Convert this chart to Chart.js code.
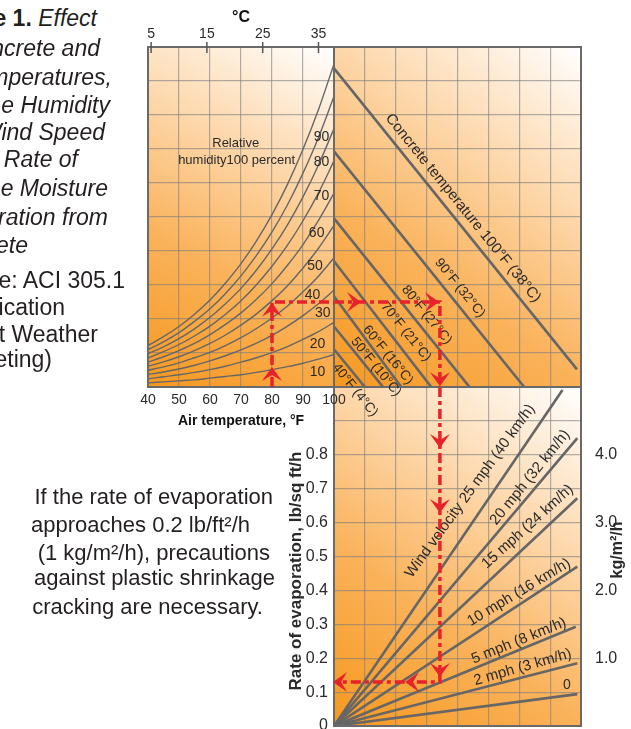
<!DOCTYPE html>
<html>
<head>
<meta charset="utf-8">
<title>Evaporation nomograph</title>
<script src="https://cdn.jsdelivr.net/npm/chart.js@4"></script>
<style>
  html, body { margin: 0; padding: 0; background: #fff; }
  #page { position: relative; width: 631px; height: 729px; overflow: hidden;
          font-family: "Liberation Sans", Arial, sans-serif; color: #231f20; }
  canvas { position: absolute; }
  #windChart { left: 240px; top: 380px; z-index: 1; }
  #concreteChart { left: 330px; top: 0; z-index: 2; }
  #airChart { left: 100px; top: 0; z-index: 3; }
  .ln { position: absolute; white-space: nowrap; font-size: 23px; line-height: 28px; z-index: 4; }
  .cap { position: absolute; white-space: nowrap; font-size: 22px; line-height: 28px; z-index: 4; }
</style>
</head>
<body>
<div id="page">
  <canvas id="windChart" width="391" height="349"></canvas>
  <canvas id="concreteChart" width="301" height="430"></canvas>
  <canvas id="airChart" width="250" height="430"></canvas>

  <div class="ln" style="right:534px;top:4px"><b>e 1.</b> <i>Effect</i></div>
  <div class="ln" style="right:531px;top:34px"><i>ncrete and</i></div>
  <div class="ln" style="right:519px;top:63px"><i>mperatures,</i></div>
  <div class="ln" style="right:521px;top:91px"><i>e Humidity</i></div>
  <div class="ln" style="right:526px;top:118px"><i>Wind Speed</i></div>
  <div class="ln" style="right:553px;top:145px"><i>Rate of</i></div>
  <div class="ln" style="right:523px;top:174px"><i>e Moisture</i></div>
  <div class="ln" style="right:523px;top:203px"><i>ration from</i></div>
  <div class="ln" style="right:603px;top:231px"><i>ete</i></div>
  <div class="ln" style="right:506px;top:266px">e: ACI 305.1</div>
  <div class="ln" style="right:566px;top:293px">ication</div>
  <div class="ln" style="right:533px;top:320px">t Weather</div>
  <div class="ln" style="right:579px;top:345px">eting)</div>

  <div class="cap" style="right:358px;top:483px">If the rate of evaporation</div>
  <div class="cap" style="right:381px;top:511px">approaches 0.2 lb/ft²/h</div>
  <div class="cap" style="right:361px;top:539px">(1 kg/m²/h), precautions</div>
  <div class="cap" style="right:356px;top:564px">against plastic shrinkage</div>
  <div class="cap" style="right:368px;top:593px">cracking are necessary.</div>
</div>

<script>
// ---- data ----

// air temperature (F) and vapour pressure of air (psi) for each relative humidity curve
const airTempsF = [40, 45, 50, 55, 60, 65, 70, 75, 80, 85, 90, 95, 100];
const rh100 = [0.122, 0.148, 0.178, 0.214, 0.256, 0.306, 0.363, 0.430, 0.507, 0.596, 0.699, 0.816, 0.950];
const rh90  = [0.110, 0.133, 0.160, 0.193, 0.230, 0.275, 0.327, 0.387, 0.456, 0.536, 0.629, 0.734, 0.855];
const rh80  = [0.098, 0.118, 0.142, 0.171, 0.205, 0.245, 0.290, 0.344, 0.406, 0.477, 0.559, 0.653, 0.760];
const rh70  = [0.085, 0.104, 0.125, 0.150, 0.179, 0.214, 0.254, 0.301, 0.355, 0.417, 0.489, 0.571, 0.665];
const rh60  = [0.073, 0.089, 0.107, 0.128, 0.154, 0.184, 0.218, 0.258, 0.304, 0.358, 0.419, 0.490, 0.570];
const rh50  = [0.061, 0.074, 0.089, 0.107, 0.128, 0.153, 0.182, 0.215, 0.254, 0.298, 0.350, 0.408, 0.475];
const rh40  = [0.049, 0.059, 0.071, 0.086, 0.102, 0.122, 0.145, 0.172, 0.203, 0.238, 0.280, 0.326, 0.380];
const rh30  = [0.037, 0.044, 0.053, 0.064, 0.077, 0.092, 0.109, 0.129, 0.152, 0.179, 0.210, 0.245, 0.285];
const rh20  = [0.024, 0.030, 0.036, 0.043, 0.051, 0.061, 0.073, 0.086, 0.101, 0.119, 0.140, 0.163, 0.190];
const rh10  = [0.012, 0.015, 0.018, 0.021, 0.026, 0.031, 0.036, 0.043, 0.051, 0.060, 0.070, 0.082, 0.095];
const rhLabels = ['90', '80', '70', '60', '50', '40', '30', '20', '10'];
const celsiusTicks = [5, 15, 25, 35];

// concrete temperature lines: start on the left edge, end on the bottom (or right) edge
const concreteLabels = ['Concrete temperature 100°F (38°C)', '90°F (32°C)', '80°F (27°C)',
  '70°F (21°C)', '60°F (16°C)', '50°F (10°C)', '40°F (4°C)'];
const concreteStartY = [0.937, 0.693, 0.496, 0.370, 0.267, 0.178, 0.111];
const concreteEndX   = [7.87, 6.16, 4.39, 3.15, 2.18, 1.59, 1.00];
const concreteEndY   = [0.052, 0, 0, 0, 0, 0, 0];

// wind velocity lines, from the origin out to the right edge (lb/sq ft/h)
const windLabels = ['Wind velocity 25 mph (40 km/h)', '20 mph (32 km/h)', '15 mph (24 km/h)',
  '10 mph (16 km/h)', '5 mph (8 km/h)', '2 mph (3 km/h)', '0'];
const windEndX = [7.40, 7.88, 7.88, 7.88, 7.83, 7.88, 7.88];
const windEndY = [0.991, 0.849, 0.672, 0.470, 0.293, 0.185, 0.094];
const kgTicks = [1, 2, 3, 4];

// worked example shown with the red arrows
const exampleAirF = 80;
const exampleVapour = 0.25;
const exampleTurnX = 3.43;
const exampleEvap = 0.13;

// label placement (data units) and angles
const rhLabelSpots = [[96.0, 0.736], [96.0, 0.661], [96.0, 0.562], [94.4, 0.453], [93.9, 0.356],
  [93.1, 0.271], [96.4, 0.218], [94.7, 0.126], [94.7, 0.045]];
const concreteLabelSpots = [[4.18, 0.526], [4.08, 0.291], [3.00, 0.212], [2.33, 0.162],
  [1.75, 0.094], [1.36, 0.059], [0.68, -0.009]];
const windLabelSpots = [[4.41, 0.693], [6.35, 0.733], [6.27, 0.588], [5.99, 0.394],
  [5.99, 0.251], [6.11, 0.173], [7.54, 0.121]];
const windLabelAngles = [-54, -51, -42, -31, -22, -16, 0];

// ---- styling ----
const INK = '#2a2a2a';
const LINE = '#666666';
const GRID = 'rgba(125,125,125,0.6)';
const FRAME = '#6a6a6a';
const RED = '#e8222b';
const FONT = '"Liberation Sans", Arial, sans-serif';

Chart.defaults.font.family = FONT;
Chart.defaults.color = INK;
Chart.defaults.animation = false;
Chart.defaults.plugins.legend.display = false;
Chart.defaults.plugins.tooltip.enabled = false;

function fixSize(w, h) {
  return function (s) {
    if (w !== null) s.width = w;
    if (h !== null) s.height = h;
    s.paddingLeft = s.paddingRight = s.paddingTop = s.paddingBottom = 0;
  };
}

function hiddenAxis(min, max, step, w, h) {
  return {
    type: 'linear', min: min, max: max,
    ticks: { display: false, stepSize: step },
    grid: { color: GRID, lineWidth: 1.2, drawTicks: false },
    border: { display: false },
    afterFit: fixSize(w, h)
  };
}

const panelFill = {
  id: 'panelFill',
  beforeDatasetsDraw(chart) {
    const { ctx, chartArea: a } = chart;
    ctx.save();
    const g = ctx.createLinearGradient(a.left, a.bottom, a.right, a.top);
    g.addColorStop(0, '#f6981f');
    g.addColorStop(0.35, '#fab25a');
    g.addColorStop(0.65, '#fdd6a8');
    g.addColorStop(1, '#ffffff');
    ctx.globalCompositeOperation = 'destination-over';
    ctx.fillStyle = g;
    ctx.fillRect(a.left, a.top, a.width, a.height);
    ctx.restore();
  }
};

function frame(chart) {
  const { ctx, chartArea: a } = chart;
  ctx.save();
  ctx.strokeStyle = FRAME;
  ctx.lineWidth = 2;
  ctx.strokeRect(a.left, a.top, a.width, a.height);
  ctx.restore();
}

function text(ctx, str, x, y, deg, font) {
  ctx.save();
  ctx.translate(x, y);
  ctx.rotate(deg * Math.PI / 180);
  ctx.font = font;
  ctx.fillStyle = INK;
  ctx.textAlign = 'center';
  ctx.textBaseline = 'middle';
  ctx.fillText(str, 0, 0);
  ctx.restore();
}

function redPath(chart, pts) {
  const { ctx, scales: { x, y } } = chart;
  ctx.save();
  ctx.strokeStyle = RED;
  ctx.lineWidth = 3.5;
  ctx.setLineDash([10, 4, 4, 4]);
  ctx.beginPath();
  pts.forEach((p, i) => {
    const px = x.getPixelForValue(p[0]), py = y.getPixelForValue(p[1]);
    if (i) ctx.lineTo(px, py); else ctx.moveTo(px, py);
  });
  ctx.stroke();
  ctx.restore();
}

// dir: 0 up, 90 right, 180 down, 270 left
function arrowHead(chart, vx, vy, dir) {
  const { ctx, scales: { x, y } } = chart;
  ctx.save();
  ctx.translate(x.getPixelForValue(vx), y.getPixelForValue(vy));
  ctx.rotate(dir * Math.PI / 180);
  ctx.fillStyle = RED;
  ctx.beginPath();
  ctx.moveTo(0, -8);
  ctx.lineTo(10, 6);
  ctx.lineTo(0, 0);
  ctx.lineTo(-10, 6);
  ctx.closePath();
  ctx.fill();
  ctx.restore();
}

function line2(x0, y0, x1, y1, width) {
  return {
    data: [{ x: x0, y: y0 }, { x: x1, y: y1 }],
    showLine: true, borderColor: LINE, borderWidth: width, pointRadius: 0
  };
}

// ---- top left: air temperature and relative humidity ----
const rhCurves = [rh100, rh90, rh80, rh70, rh60, rh50, rh40, rh30, rh20, rh10];

new Chart(document.getElementById('airChart'), {
  type: 'scatter',
  data: {
    datasets: rhCurves.map(c => ({
      data: airTempsF.map((t, i) => ({ x: t, y: c[i] })),
      showLine: true, borderColor: LINE, borderWidth: 1.4, pointRadius: 0,
      cubicInterpolationMode: 'monotone'
    }))
  },
  options: {
    responsive: false,
    layout: { padding: { right: 16 } },
    scales: {
      x: {
        type: 'linear', position: 'bottom', min: 40, max: 100,
        ticks: { stepSize: 10, padding: 5, font: { size: 14 }, color: INK },
        grid: { color: GRID, lineWidth: 1.2, drawTicks: false },
        border: { display: false },
        title: { display: true, text: 'Air temperature, °F', color: '#111',
                 font: { size: 14, weight: 'bold' }, padding: { top: 0, bottom: 0 } },
        afterFit: fixSize(null, 43)
      },
      xC: {
        type: 'linear', position: 'top', min: (40 - 32) / 1.8, max: (100 - 32) / 1.8,
        afterBuildTicks: s => { s.ticks = celsiusTicks.map(v => ({ value: v })); },
        ticks: { padding: -4, font: { size: 14 }, color: INK },
        grid: { display: false },
        border: { display: false },
        title: { display: true, text: '°C', color: '#111',
                 font: { size: 16, weight: 'bold' }, padding: { top: 8, bottom: 0 } },
        afterFit: fixSize(null, 47)
      },
      y: Object.assign(hiddenAxis(0, 1, 0.1, 48, null), { position: 'left' })
    }
  },
  plugins: [panelFill, {
    id: 'airOverlay',
    afterDatasetsDraw(chart) {
      const { ctx, chartArea: a, scales } = chart;
      frame(chart);
      ctx.save();
      ctx.strokeStyle = '#555';
      ctx.lineWidth = 1.5;
      celsiusTicks.forEach(v => {
        const px = scales.xC.getPixelForValue(v);
        ctx.beginPath();
        ctx.moveTo(px, a.top - 5);
        ctx.lineTo(px, a.top + 6);
        ctx.stroke();
      });
      ctx.restore();
      rhLabels.forEach((t, i) => {
        text(ctx, t, scales.x.getPixelForValue(rhLabelSpots[i][0]),
             scales.y.getPixelForValue(rhLabelSpots[i][1]), 0, '14px ' + FONT);
      });
      text(ctx, 'Relative', scales.x.getPixelForValue(68.3), scales.y.getPixelForValue(0.717), 0, '13px ' + FONT);
      text(ctx, 'humidity100 percent', scales.x.getPixelForValue(68.6), scales.y.getPixelForValue(0.665), 0, '13px ' + FONT);
      redPath(chart, [[exampleAirF, 0], [exampleAirF, exampleVapour], [100, exampleVapour]]);
      arrowHead(chart, exampleAirF, 0.035, 0);
      arrowHead(chart, exampleAirF, 0.224, 0);
    }
  }]
});

// ---- top right: concrete temperature ----
new Chart(document.getElementById('concreteChart'), {
  type: 'scatter',
  data: {
    datasets: concreteStartY.map((y0, i) => line2(0, y0, concreteEndX[i], concreteEndY[i], 2.6))
  },
  options: {
    responsive: false,
    layout: { padding: { left: 4, right: 50, top: 47, bottom: 43 } },
    scales: {
      x: Object.assign(hiddenAxis(0, 8, 1, null, 0), { position: 'bottom' }),
      y: Object.assign(hiddenAxis(0, 1, 0.1, 0, null), { position: 'left' })
    }
  },
  plugins: [panelFill, {
    id: 'concreteOverlay',
    afterDatasetsDraw(chart) {
      const { ctx, scales } = chart;
      frame(chart);
      concreteLabels.forEach((t, i) => {
        text(ctx, t, scales.x.getPixelForValue(concreteLabelSpots[i][0]),
             scales.y.getPixelForValue(concreteLabelSpots[i][1]), 51,
             (i === 0 ? '15px ' : '13.5px ') + FONT);
      });
      redPath(chart, [[0, exampleVapour], [exampleTurnX, exampleVapour], [exampleTurnX, 0]]);
      arrowHead(chart, 0.62, exampleVapour, 90);
      arrowHead(chart, 3.14, exampleVapour, 90);
      arrowHead(chart, exampleTurnX, 0.026, 180);
    }
  }]
});

// ---- bottom: wind velocity and rate of evaporation ----
new Chart(document.getElementById('windChart'), {
  type: 'scatter',
  data: {
    datasets: windEndX.map((x1, i) => line2(0, 0, x1, windEndY[i], 2.6))
  },
  options: {
    responsive: false,
    layout: { padding: { top: 7, bottom: 3 } },
    scales: {
      x: Object.assign(hiddenAxis(0, 8, 1, null, 0), { position: 'bottom' }),
      y: {
        type: 'linear', position: 'left', min: 0, max: 1,
        ticks: { stepSize: 0.1, padding: 6, font: { size: 16 }, color: INK,
                 callback: v => (v > 0.85 ? '' : (v === 0 ? '0' : v.toFixed(1))) },
        grid: { color: GRID, lineWidth: 1.2, drawTicks: false },
        border: { display: false },
        afterFit: fixSize(94, null)
      },
      y2: {
        type: 'linear', position: 'right', min: 0, max: 5,
        afterBuildTicks: s => { s.ticks = kgTicks.map(v => ({ value: v })); },
        ticks: { padding: 6, font: { size: 16 }, color: INK, callback: v => v.toFixed(1) },
        grid: { display: false },
        border: { display: false },
        afterFit: fixSize(50, null)
      }
    }
  },
  plugins: [panelFill, {
    id: 'windOverlay',
    afterDatasetsDraw(chart) {
      const { ctx, chartArea: a, scales } = chart;
      frame(chart);
      windLabels.forEach((t, i) => {
        text(ctx, t, scales.x.getPixelForValue(windLabelSpots[i][0]),
             scales.y.getPixelForValue(windLabelSpots[i][1]), windLabelAngles[i],
             (i === 6 ? '14px ' : '15px ') + FONT);
      });
      text(ctx, 'Rate of evaporation, lb/sq ft/h', a.left - 38, a.bottom - 155, -90, 'bold 17px ' + FONT);
      text(ctx, 'kg/m²/h', a.right + 37, a.top + 163, -90, 'bold 16px ' + FONT);
      redPath(chart, [[exampleTurnX, 1], [exampleTurnX, exampleEvap], [0.1, exampleEvap]]);
      arrowHead(chart, exampleTurnX, 0.844, 180);
      arrowHead(chart, exampleTurnX, 0.652, 180);
      arrowHead(chart, exampleTurnX, 0.168, 180);
      arrowHead(chart, 2.56, exampleEvap, 270);
      arrowHead(chart, 0.23, exampleEvap, 270);
    }
  }]
});
</script>
</body>
</html>
